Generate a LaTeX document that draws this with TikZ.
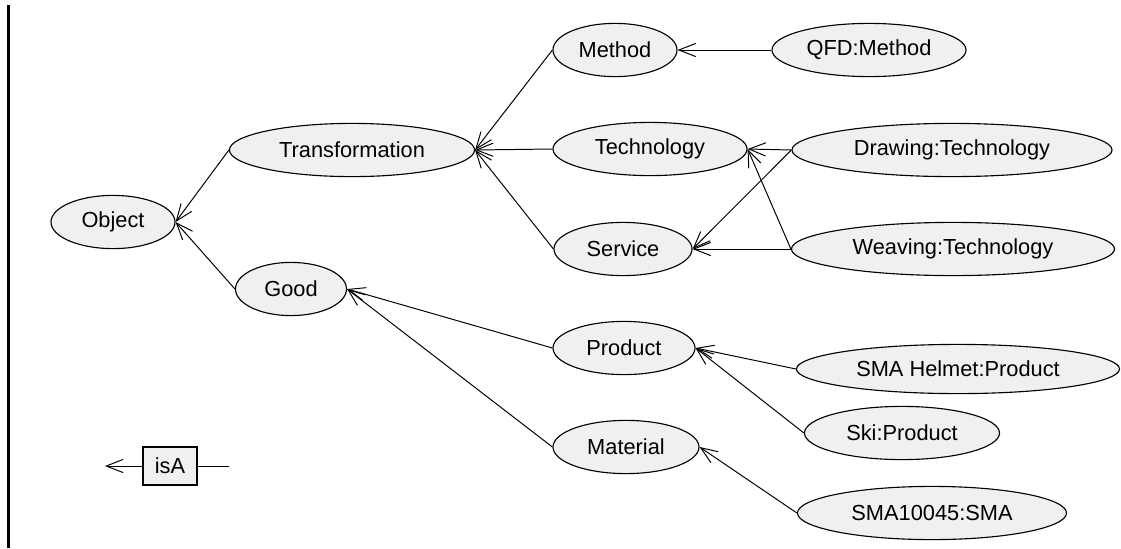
\documentclass[tikz,border=0pt]{standalone}
\usepackage{fontspec}
\setmainfont{Liberation Sans}
\usetikzlibrary{arrows.meta,shapes.geometric}
\definecolor{conceptfill}{RGB}{240,240,240}
\tikzset{
  concept/.style={
    ellipse,
    draw=black,
    line width=0.8pt,
    fill=conceptfill,
    inner sep=0pt,
    minimum height=1.33cm,
    font=\fontsize{15.5}{18}\selectfont
  },
  isaedge/.style={
    line width=0.7pt,
    -{Straight Barb[length=4.2mm,width=3.3mm]}
  },
  legendbox/.style={
    rectangle,
    draw=black,
    line width=0.8pt,
    fill=conceptfill,
    inner sep=0pt,
    minimum width=1.35cm,
    minimum height=0.95cm,
    font=\fontsize{15.5}{18}\selectfont
  }
}

\begin{document}
\begin{tikzpicture}[x=0.025cm,y=-0.025cm]

  \path[use as bounding box] (0,0) rectangle (1121,548);

  % frame bar on the left
  \draw[line width=2pt] (8.5,5) -- (8.5,548);

  % concepts<<<
  \node[concept, minimum width=3.1cm]   (object)   at (113,222) {Object};
  \node[concept, minimum width=6.125cm] (transf)   at (352,150) {Transformation};
  \node[concept, minimum width=2.775cm] (good)     at (291,289) {Good};

  \node[concept, minimum width=3.1cm]   (method)   at (615,50)  {Method};
  \node[concept, minimum width=4.85cm]  (techn)    at (650,149) {Technology};
  \node[concept, minimum width=3.45cm]  (service)  at (623,249) {Service};
  \node[concept, minimum width=3.55cm]  (product)  at (624,348) {Product};
  \node[concept, minimum width=3.65cm]  (material) at (626,447) {Material};

  \node[concept, minimum width=4.85cm]  (qfd)      at (869,50)  {QFD:Method};
  \node[concept, minimum width=8.0cm]   (drawing)  at (952,150) {Drawing:Technology};
  \node[concept, minimum width=8.075cm] (weaving)  at (953,249) {Weaving:Technology};
  \node[concept, minimum width=8.075cm,
        minimum height=1.23cm]          (helmet)   at (958,369) {SMA Helmet:Product};
  \node[concept, minimum width=4.875cm] (ski)      at (902,433) {Ski:Product};
  \node[concept, minimum width=6.725cm] (sma)      at (932,513) {SMA10045:SMA};
  % >>>

  % isA links<<<
  \draw[isaedge] (transf.west)   -- (object.east);
  \draw[isaedge] (good.west)     -- (object.east);

  \draw[isaedge] (method.west)   -- (transf.east);
  \draw[isaedge] (techn.west)    -- (transf.east);
  \draw[isaedge] (service.west)  -- (transf.east);
  \draw[isaedge] (product.west)  -- (good.east);
  \draw[isaedge] (material.west) -- (good.east);

  \draw[isaedge] (qfd.west)      -- (method.east);
  \draw[isaedge] (drawing.west)  -- (techn.east);
  \draw[isaedge] (drawing.west)  -- (service.east);
  \draw[isaedge] (weaving.west)  -- (techn.east);
  \draw[isaedge] (weaving.west)  -- (service.east);
  \draw[isaedge] (helmet.west)   -- (product.east);
  \draw[isaedge] (ski.west)      -- (product.east);
  \draw[isaedge] (sma.west)      -- (material.east);
  % >>>

  % legend<<<
  \node[legendbox] (isa) at (170,466) {isA};
  \coordinate (isahead) at (105,466);
  \coordinate (isatail) at (229,466);
  \draw[isaedge] (isa.west) -- (isahead);
  \draw[line width=0.7pt] (isa.east) -- (isatail);
  % >>>

\end{tikzpicture}
\end{document}
